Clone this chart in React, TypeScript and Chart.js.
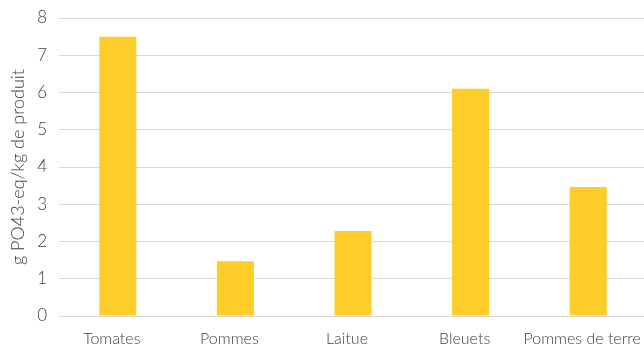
import React, { useEffect, useRef } from "react";
import { Chart, registerables } from "chart.js";

Chart.register(...registerables);

const categories = ["Tomates", "Pommes", "Laitue", "Bleuets", "Pommes de terre"];
const values = [7.5, 1.47, 2.28, 6.1, 3.46];
const yTitle = "g PO43-eq/kg de produit";

export default function App() {
  const ref = useRef<HTMLCanvasElement | null>(null);
  useEffect(() => {
    document.body.style.margin = "0";
    const ctx = ref.current!;
    const chart = new Chart(ctx, {
      type: "bar",
      data: {
        labels: categories,
        datasets: [
          {
            data: values,
            backgroundColor: "#FFCD29",
            barPercentage: 0.315,
            categoryPercentage: 1,
          },
        ],
      },
      options: {
        animation: false,
        responsive: false,
        maintainAspectRatio: false,
        layout: { padding: { top: 18, right: 0, bottom: 2, left: 0 } },
        plugins: { legend: { display: false }, tooltip: { enabled: false } },
        scales: {
          x: {
            grid: { display: false },
            border: { display: false },
            ticks: {
              color: "#404040",
              font: { family: "Lato", size: 16, weight: 300 },
              padding: 5,
              labelOffset: -6,
              maxRotation: 0,
              autoSkip: false,
            },
            afterFit: (s: any) => {
              s.height = 32;
              s.paddingRight = 0;
              s.paddingLeft = 0;
            },
          },
          y: {
            min: 0,
            max: 8,
            ticks: {
              stepSize: 1,
              color: "#404040",
              font: { family: "Lato", size: 17, weight: 300 },
              padding: 12,
            },
            grid: { color: "#D9D9D9", lineWidth: 1, drawTicks: false },
            border: { display: false },
            title: {
              display: true,
              text: yTitle,
              color: "#404040",
              font: { family: "Lato", size: 18, weight: 300 },
              padding: { top: 7, bottom: 0 },
            },
            afterFit: (s: any) => {
              s.width = 59;
              s.paddingTop = 0;
              s.paddingBottom = 0;
            },
          },
        },
      },
    });
    return () => chart.destroy();
  }, []);
  return (
    <div style={{ width: 644, height: 350, overflow: "hidden" }}>
      <canvas ref={ref} width={647} height={350} style={{ display: "block" }} />
    </div>
  );
}
